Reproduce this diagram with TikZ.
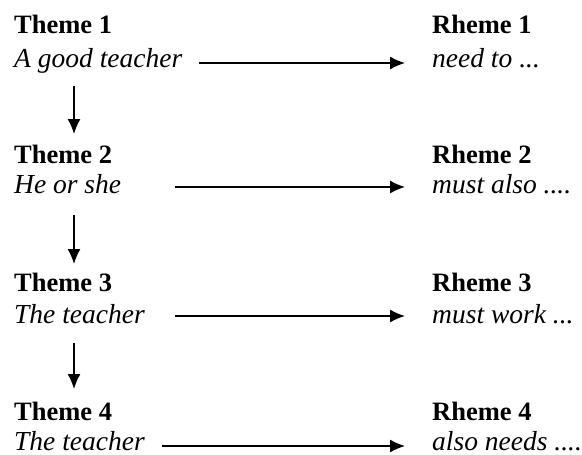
\documentclass[tikz,border=0pt]{standalone}
\usepackage{fontspec}
\setmainfont{Liberation Serif}
\usetikzlibrary{arrows.meta,calc}

\tikzset{
  head/.style={anchor=base west, inner sep=0pt, font=\fontsize{26.5}{30}\selectfont\bfseries},
  part/.style={anchor=base west, inner sep=0pt, font=\fontsize{27.5}{30}\selectfont\itshape},
  flow/.style={-{Latex[length=15pt,width=13pt]}, line width=1.3pt},
}

\begin{document}
\begin{tikzpicture}[x=1pt,y=-1pt]
    \useasboundingbox (0,0) rectangle (582,455);

    % themes
    \node[head] (th1) at (14,34) {Theme 1};
    \node[part] (tp1) at (14,67) {A good teacher};
    \node[head] (th2) at (14,163) {Theme 2};
    \node[part] (tp2) at (14,193) {He or she};
    \node[head] (th3) at (14,291) {Theme 3};
    \node[part] (tp3) at (14,323) {The teacher};
    \node[head] (th4) at (14,420) {Theme 4};
    \node[part] (tp4) at (14,450) {The teacher};

    % rhemes
    \node[head] (rh1) at (432,34) {Rheme 1};
    \node[part] (rp1) at (432,67) {need to ...};
    \node[head] (rh2) at (432,163) {Rheme 2};
    \node[part] (rp2) at (432,193) {must also ....};
    \node[head] (rh3) at (432,291) {Rheme 3};
    \node[part] (rp3) at (432,323) {must work ...};
    \node[head] (rh4) at (432,420) {Rheme 4};
    \node[part] (rp4) at (432,450) {also needs ....};

    % where the horizontal arrows start
    \coordinate (s1) at (199,63);
    \coordinate (s2) at (175,187);
    \coordinate (s3) at (175,316);
    \coordinate (s4) at (162,446);

    \draw[flow, shorten >=27pt] (s1) -- (s1 -| rp1.west);
    \draw[flow, shorten >=27pt] (s2) -- (s2 -| rp2.west);
    \draw[flow, shorten >=27pt] (s3) -- (s3 -| rp3.west);
    \draw[flow, shorten >=27pt] (s4) -- (s4 -| rp4.west);

    % theme to theme
    \draw[flow] ($(tp1.base west)+(60,19)$) -- ($(th2.base west)+(60,-29)$);
    \draw[flow] ($(tp2.base west)+(60,22)$) -- ($(th3.base west)+(60,-27)$);
    \draw[flow] ($(tp3.base west)+(60,20)$) -- ($(th4.base west)+(60,-31)$);
\end{tikzpicture}
\end{document}
